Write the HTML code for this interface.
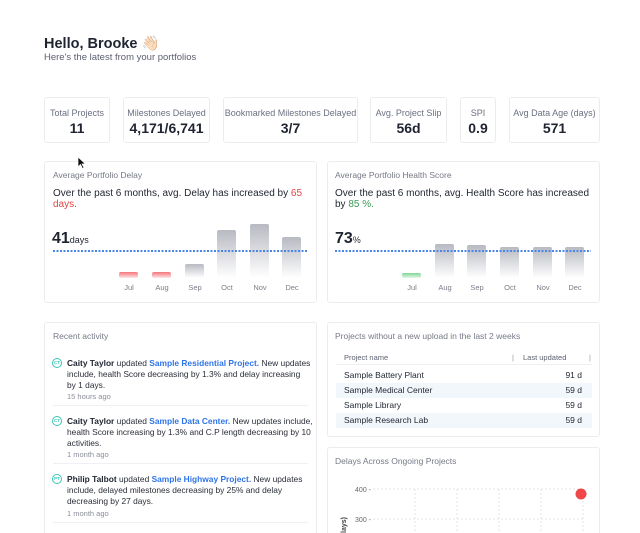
<!DOCTYPE html>
<html><head><meta charset="utf-8"><style>
*{box-sizing:border-box;margin:0;padding:0}
html,body{width:640px;height:533px;overflow:hidden}
body{background:#fff;font-family:"Liberation Sans",sans-serif;color:#1f2430;position:relative}
.a{position:absolute;white-space:nowrap}
.card{position:absolute;border:1px solid #ececef;border-radius:3px;background:#fff}
.lbl{font-size:9px;color:#6b7080;text-align:center;position:absolute;left:0;right:0;top:10px}
.val{font-size:14px;font-weight:bold;text-align:center;position:absolute;left:0;right:0;top:22px}
.pt{font-size:8.5px;color:#767a86;position:absolute}
.bar{position:absolute;width:19px;border-radius:2px;background:linear-gradient(#b8bac2,#fff)}
.red{background:linear-gradient(#f4747a,#fde6e7);height:6px}
.grn{background:linear-gradient(#7fd694,#e4f6e8);height:5px}
.ml{position:absolute;font-size:7.5px;color:#7a7e8a;width:30px;text-align:center;top:283px}
.dash{position:absolute;height:1.5px;background:repeating-linear-gradient(90deg,#4a86e8 0 2px,transparent 2px 3.5px)}
.act{position:absolute;left:67px;font-size:8.4px;line-height:11px;color:#2a2e38;white-space:nowrap}
.act b{color:#1f2430}.act a{color:#2f74e8;font-weight:bold;text-decoration:none}
.tm{position:absolute;left:67px;font-size:7.5px;color:#8a8e98}
.ic{position:absolute;left:52px;width:10px;height:10px;border-radius:50%;border:1.5px solid #3cc5b5;font-size:4.5px;color:#3cc5b5;text-align:center;line-height:7px;font-weight:bold}
.hr{position:absolute;left:53px;width:255px;border-top:1px solid #eef0f3}
.row{position:absolute;left:336px;width:256px;height:15px;font-size:8.5px;line-height:15px}
.row span{position:absolute}
</style></head><body>
<div class="a" style="left:44px;top:35px;font-size:14.5px;font-weight:bold">Hello, Brooke 👋🏻</div>
<div class="a" style="left:44px;top:52px;font-size:9.5px;color:#5c6070">Here's the latest from your portfolios</div>

<div class="card" style="left:44px;top:97px;width:66px;height:46px"><div class="lbl">Total Projects</div><div class="val">11</div></div>
<div class="card" style="left:123px;top:97px;width:87px;height:46px"><div class="lbl">Milestones Delayed</div><div class="val">4,171/6,741</div></div>
<div class="card" style="left:223px;top:97px;width:135px;height:46px"><div class="lbl">Bookmarked Milestones Delayed</div><div class="val">3/7</div></div>
<div class="card" style="left:370px;top:97px;width:77px;height:46px"><div class="lbl">Avg. Project Slip</div><div class="val">56d</div></div>
<div class="card" style="left:460px;top:97px;width:36px;height:46px"><div class="lbl">SPI</div><div class="val">0.9</div></div>
<div class="card" style="left:509px;top:97px;width:91px;height:46px"><div class="lbl">Avg Data Age (days)</div><div class="val">571</div></div>

<div class="card" style="left:44px;top:161px;width:273px;height:142px"></div>
<svg class="a" style="left:77px;top:156px" width="10" height="14"><path d="M1 1 L1 11 L3.5 8.5 L5.5 12.5 L7 11.8 L5 8 L8.5 8 Z" fill="#111" stroke="#fff" stroke-width="0.7"/></svg>
<div class="pt" style="left:53px;top:170px">Average Portfolio Delay</div>
<div class="a" style="left:53px;top:188px;font-size:10px;line-height:11px;white-space:normal;width:255px">Over the past 6 months, avg. Delay has increased by <span style="color:#e04545">65 days.</span></div>
<div class="a" style="left:52px;top:230px;font-size:16px;font-weight:bold">41<span style="font-size:9px;font-weight:normal">days</span></div>
<div class="bar red" style="left:119px;top:272px"></div>
<div class="bar red" style="left:152px;top:272px"></div>
<div class="bar" style="left:185px;top:264px;height:14px"></div>
<div class="bar" style="left:217px;top:230px;height:48px"></div>
<div class="bar" style="left:250px;top:224px;height:54px"></div>
<div class="bar" style="left:282px;top:237px;height:41px"></div>
<div class="dash" style="left:53px;top:250px;width:255px"></div>
<div class="ml" style="left:114px">Jul</div><div class="ml" style="left:147px">Aug</div><div class="ml" style="left:180px">Sep</div><div class="ml" style="left:212px">Oct</div><div class="ml" style="left:245px">Nov</div><div class="ml" style="left:277px">Dec</div>

<div class="card" style="left:327px;top:161px;width:273px;height:142px"></div>
<div class="pt" style="left:335px;top:170px">Average Portfolio Health Score</div>
<div class="a" style="left:335px;top:188px;font-size:10px;line-height:11px;white-space:normal;width:260px">Over the past 6 months, avg. Health Score has increased by <span style="color:#3a9a55">85 %.</span></div>
<div class="a" style="left:335px;top:230px;font-size:16px;font-weight:bold">73<span style="font-size:9px;font-weight:normal">%</span></div>
<div class="bar grn" style="left:402px;top:273px"></div>
<div class="bar" style="left:435px;top:244px;height:34px"></div>
<div class="bar" style="left:467px;top:245px;height:33px"></div>
<div class="bar" style="left:500px;top:247px;height:31px"></div>
<div class="bar" style="left:533px;top:247px;height:31px"></div>
<div class="bar" style="left:565px;top:247px;height:31px"></div>
<div class="dash" style="left:335px;top:250px;width:256px"></div>
<div class="ml" style="left:397px">Jul</div><div class="ml" style="left:430px">Aug</div><div class="ml" style="left:462px">Sep</div><div class="ml" style="left:495px">Oct</div><div class="ml" style="left:528px">Nov</div><div class="ml" style="left:560px">Dec</div>

<div class="card" style="left:44px;top:322px;width:273px;height:220px"></div>
<div class="pt" style="left:53px;top:331px">Recent activity</div>
<div class="ic" style="top:358px">CT</div>
<div class="act" style="top:358px"><b>Caity Taylor</b> updated <a>Sample Residential Project.</a> New updates<br>include, health Score decreasing by 1.3% and delay increasing<br>by 1 days.</div>
<div class="tm" style="top:392px">15 hours ago</div>
<div class="hr" style="top:405px"></div>
<div class="ic" style="top:416px">CT</div>
<div class="act" style="top:416px"><b>Caity Taylor</b> updated <a>Sample Data Center.</a> New updates include,<br>health Score increasing by 1.3% and C.P length decreasing by 10<br>activities.</div>
<div class="tm" style="top:450px">1 month ago</div>
<div class="hr" style="top:463px"></div>
<div class="ic" style="top:474px">PT</div>
<div class="act" style="top:474px"><b>Philip Talbot</b> updated <a>Sample Highway Project.</a> New updates<br>include, delayed milestones decreasing by 25% and delay<br>decreasing by 27 days.</div>
<div class="tm" style="top:509px">1 month ago</div>
<div class="hr" style="top:522px"></div>

<div class="card" style="left:327px;top:322px;width:273px;height:115px"></div>
<div class="pt" style="left:335px;top:331px">Projects without a new upload in the last 2 weeks</div>
<div class="row" style="top:350px;font-size:7.5px;color:#5c6070;border-bottom:1px solid #eef0f3"><span style="left:8px">Project name</span><span style="left:176px;color:#999">|</span><span style="left:187px">Last updated</span><span style="left:253px;color:#999">|</span></div>
<div class="row" style="top:368px"><span style="left:8px">Sample Battery Plant</span><span style="right:10px">91 d</span></div>
<div class="row" style="top:383px;background:#f2f7fc"><span style="left:8px">Sample Medical Center</span><span style="right:10px">59 d</span></div>
<div class="row" style="top:398px"><span style="left:8px">Sample Library</span><span style="right:10px">59 d</span></div>
<div class="row" style="top:413px;background:#f2f7fc"><span style="left:8px">Sample Research Lab</span><span style="right:10px">59 d</span></div>

<div class="card" style="left:327px;top:447px;width:273px;height:100px"></div>
<div class="pt" style="left:335px;top:456px">Delays Across Ongoing Projects</div>
<svg class="a" style="left:327px;top:447px" width="273" height="86">
<g stroke="#e4e6ea" stroke-dasharray="2,2" stroke-width="1">
<line x1="46" y1="42" x2="256" y2="42"/><line x1="46" y1="72" x2="256" y2="72"/>
<line x1="88" y1="42" x2="88" y2="86"/><line x1="130" y1="42" x2="130" y2="86"/><line x1="172" y1="42" x2="172" y2="86"/><line x1="214" y1="42" x2="214" y2="86"/><line x1="256" y1="42" x2="256" y2="86"/>
</g>
<text x="44" y="45" font-size="7" fill="#666" text-anchor="end" font-family="Liberation Sans">400 -</text>
<text x="44" y="75" font-size="7" fill="#666" text-anchor="end" font-family="Liberation Sans">300 -</text>
<text transform="translate(19,86) rotate(-90)" font-size="7" fill="#444" font-weight="bold" font-family="Liberation Sans">lays)</text>
<circle cx="254" cy="47" r="5.5" fill="#f04848"/>
</svg>
</body></html>
